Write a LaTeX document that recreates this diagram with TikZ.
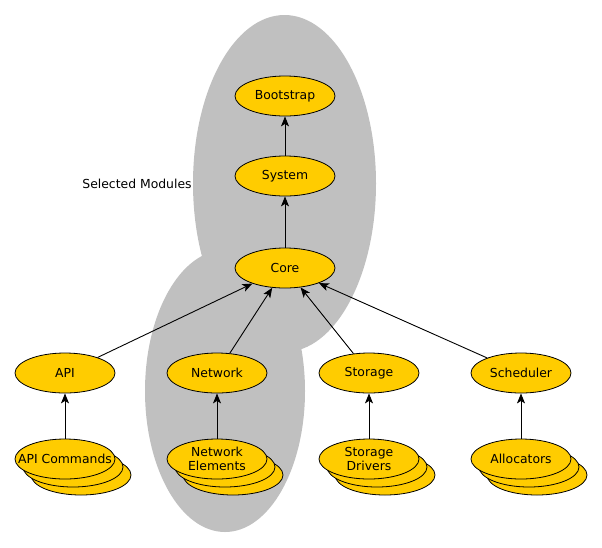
\documentclass[tikz,border=0pt]{standalone}
\usepackage{fontspec}
\setmainfont{DejaVu Sans}
\usetikzlibrary{shapes.geometric,arrows.meta}
\definecolor{modfill}{RGB}{255,204,0}
\definecolor{selgray}{RGB}{192,192,192}
\begin{document}
\begin{tikzpicture}[x=1pt,y=-1pt,
  mod/.style={ellipse,draw=black,line width=0.8pt,fill=modfill,minimum width=100pt,minimum height=40pt,inner sep=0pt,align=center,font=\fontsize{12.4}{13.5}\selectfont},
  dep/.style={draw=black,line width=0.9pt,-{Stealth[length=10pt,width=8pt,inset=2.5pt]}},
  lbl/.style={font=\fontsize{12.4}{14}\selectfont}]
\useasboundingbox (0,0) rectangle (602,547);
% selected modules region
\fill[selgray] (284.5,183.5) ellipse [x radius=91.5, y radius=168.5];
\fill[selgray] (225,391) ellipse [x radius=80, y radius=141];
\node[lbl] (sel) at (137,184) {Selected Modules};
% main modules
\node[mod] (boot) at (285,96) {Bootstrap};
\node[mod] (sys) at (285,176) {System};
\node[mod] (core) at (285,268) {Core};
\node[mod] (api) at (65,373) {API};
\node[mod] (net) at (217,373) {Network};
\node[mod] (sto) at (369,373) {Storage};
\node[mod] (sch) at (521,373) {Scheduler};
% stacked modules
\node[mod] (apic3) at (81,475) {};
\node[mod] (apic2) at (73,467) {};
\node[mod] (apic) at (65,459) {\makebox[60pt]{API Commands}};
\node[mod] (nete3) at (233,475) {};
\node[mod] (nete2) at (225,467) {};
\node[mod] (nete) at (217,459) {Network\\Elements};
\node[mod] (stod3) at (385,475) {};
\node[mod] (stod2) at (377,467) {};
\node[mod] (stod) at (369,459) {Storage\\Drivers};
\node[mod] (alloc3) at (537,475) {};
\node[mod] (alloc2) at (529,467) {};
\node[mod] (alloc) at (521,459) {Allocators};
% dependencies
\draw[dep] (sys) -- (boot);
\draw[dep] (core) -- (sys);
\draw[dep] (api) -- (core);
\draw[dep] (net) -- (core);
\draw[dep] (sto) -- (core);
\draw[dep] (sch) -- (core);
\draw[dep] (apic) -- (api);
\draw[dep] (nete) -- (net);
\draw[dep] (stod) -- (sto);
\draw[dep] (alloc) -- (sch);
\end{tikzpicture}
\end{document}
